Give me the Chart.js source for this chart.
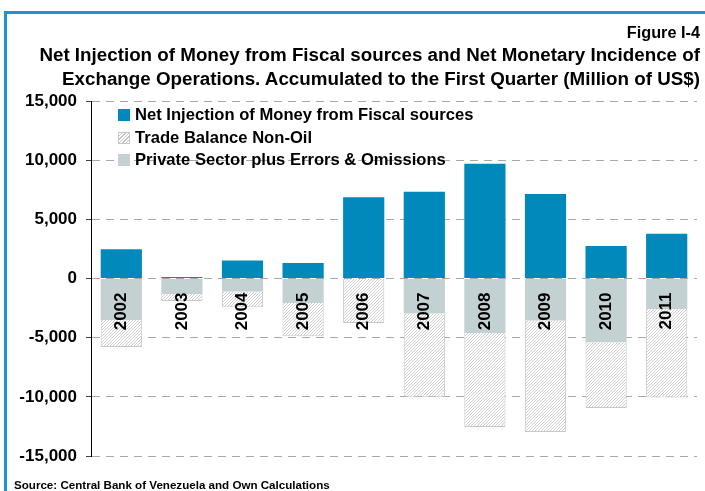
<!DOCTYPE html>
<html>
<head>
<meta charset="utf-8">
<script src="https://cdn.jsdelivr.net/npm/chart.js@4"></script>
<style>
  body { margin: 0; background: #fff; }
  #wrap { position: relative; width: 705px; height: 491px; overflow: hidden; font-family: "Liberation Sans", Arial, sans-serif; font-weight: bold; color: #000; }
  #frame { position: absolute; left: 4px; top: 11px; width: 720px; height: 500px; border-left: 3px solid #1b95d0; border-top: 3px solid #1b95d0; }
  canvas { position: absolute; left: 0; top: 0; }
  .txt { position: absolute; white-space: nowrap; }
  #fig { right: 5px; top: 23px; font-size: 16.3px; line-height: 18px; }
  #title { right: 5px; top: 43px; font-size: 18.8px; line-height: 24px; text-align: right; }
  #source { left: 14px; top: 478px; font-size: 11.6px; line-height: 13px; }
  #legend { position: absolute; left: 118px; top: 104px; font-size: 16.6px; }
  .row { height: 22.5px; line-height: 22.5px; display: flex; align-items: center; white-space: nowrap; }
  .sw { width: 12px; height: 12px; margin-right: 5px; box-sizing: border-box; }
</style>
</head>
<body>
<div id="wrap">
  <div id="frame"></div>
  <canvas id="chart" width="705" height="491"></canvas>
  <div class="txt" id="fig">Figure I-4</div>
  <div class="txt" id="title">Net Injection of Money from Fiscal sources and Net Monetary Incidence of<br>Exchange Operations. Accumulated to the First Quarter (Million of US$)</div>
  <div id="legend"></div>
  <div class="txt" id="source">Source: Central Bank of Venezuela and Own Calculations</div>
</div>
<script>
// Data (million US$)
const years = ['2002', '2003', '2004', '2005', '2006', '2007', '2008', '2009', '2010', '2011'];
const netInjection = [2480, 120, 1520, 1300, 6860, 7330, 9690, 7140, 2750, 3790];
const privateSector = [-3500, -1310, -1100, -2070, 0, -2950, -4600, -3540, -5390, -2580];
const tradeNonOil = [-2280, -590, -1340, -2820, -3760, -7040, -7950, -9430, -5560, -7470];

const yMin = -15000;
const yMax = 15000;
const yStep = 5000;

const legendNames = ['Net Injection of Money from Fiscal sources', 'Trade Balance Non-Oil', 'Private Sector plus Errors & Omissions'];

const BLUE = '#0089ba';
const GREY = '#c4d1d3';
const FONT = '"Liberation Sans", Arial, sans-serif';

// fine diagonal hatch for trade balance
function makeHatch() {
    const c = document.createElement('canvas');
    c.width = 3; c.height = 3;
    const g = c.getContext('2d');
    g.fillStyle = '#fff';
    g.fillRect(0, 0, 3, 3);
    g.strokeStyle = '#cfcfcf';
    g.lineWidth = 1;
    g.beginPath();
    g.moveTo(-1, 4); g.lineTo(4, -1);
    g.moveTo(-1, 1); g.lineTo(1, -1);
    g.moveTo(2, 4); g.lineTo(4, 2);
    g.stroke();
    return g.createPattern(c, 'repeat');
}

const ctx = document.getElementById('chart').getContext('2d');
const hatch = makeHatch();

// Legend (HTML)
const legend = document.getElementById('legend');
const swatches = [
    'background:' + BLUE,
    'background: repeating-linear-gradient(135deg, #fff 0 1.5px, #c4c4c4 1.5px 2.5px); border:1px solid #c8c8c8',
    'background:' + GREY
];
legendNames.forEach((name, i) => {
    const row = document.createElement('div');
    row.className = 'row';
    row.innerHTML = '<span class="sw" style="' + swatches[i] + '"></span><span>' + name.replace('&', '&amp;') + '</span>';
    legend.appendChild(row);
});

new Chart(ctx, {
    type: 'bar',
    data: {
        labels: years,
        datasets: [
            {
                label: legendNames[0],
                data: netInjection,
                backgroundColor: BLUE,
                borderWidth: 0
            },
            {
                label: legendNames[2],
                data: privateSector,
                backgroundColor: GREY,
                borderWidth: 0
            },
            {
                label: legendNames[1],
                data: tradeNonOil,
                backgroundColor: hatch,
                borderColor: '#c8c8c8',
                borderWidth: 1
            }
        ]
    },
    options: {
        responsive: false,
        animation: false,
        categoryPercentage: 1,
        barPercentage: 0.68,
        layout: { padding: { left: 0, top: 101, right: 8, bottom: 35 } },
        plugins: {
            legend: { display: false },
            tooltip: { enabled: false }
        },
        scales: {
            x: {
                stacked: true,
                position: { y: 0 },
                grid: { display: false, drawTicks: false },
                border: { display: false },
                ticks: {
                    z: 1, // year labels drawn over the bars
                    autoSkip: false,
                    minRotation: 90,
                    maxRotation: 90,
                    padding: 14,
                    color: '#000',
                    font: { family: FONT, size: 17, weight: 'bold' }
                }
            },
            y: {
                stacked: true,
                min: yMin,
                max: yMax,
                afterFit: s => { s.width = 91; },
                ticks: {
                    stepSize: yStep,
                    padding: 9,
                    color: '#000',
                    font: { family: FONT, size: 17, weight: 'bold' },
                    callback: v => v.toLocaleString('en-US')
                },
                grid: {
                    color: '#a8a8a8',
                    lineWidth: 1,
                    tickLength: 5,
                    tickColor: '#444',
                    tickBorderDash: []
                },
                border: { display: true, color: '#000', width: 1, dash: [8, 6] }
            }
        }
    }
});
</script>
</body>
</html>
